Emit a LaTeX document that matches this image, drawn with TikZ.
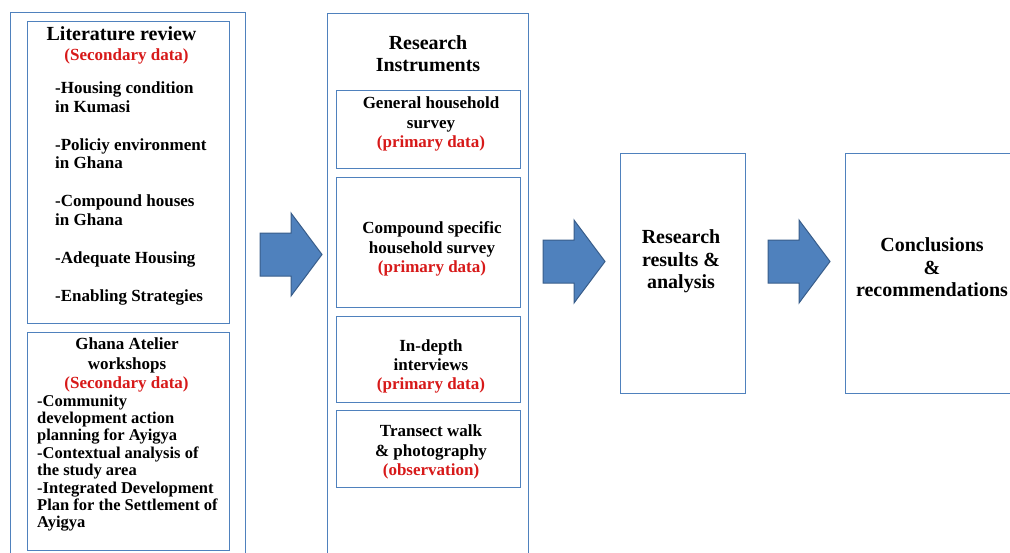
\documentclass[tikz,border=0pt]{standalone}
\usepackage{fontspec}
\setmainfont{Liberation Serif}
\usetikzlibrary{positioning}

\definecolor{boxblue}{RGB}{79,129,189}
\definecolor{arrowblue}{RGB}{79,129,189}
\definecolor{arrowedge}{RGB}{56,93,138}
\definecolor{datared}{RGB}{215,25,25}

\tikzset{
    frame/.style={rectangle, draw=boxblue, line width=0.9pt, anchor=north west},
    headtext/.style={align=center, font=\fontsize{20}{22.5}\selectfont\bfseries},
    bodytext/.style={align=center, font=\fontsize{17}{19.3}\selectfont\bfseries},
    datatext/.style={text=datared, font=\fontsize{17}{19.3}\selectfont\bfseries},
    blockarrow/.style={fill=arrowblue, draw=arrowedge, line width=1pt, line join=miter}
}

\begin{document}
\begin{tikzpicture}[x=1pt, y=-1pt, every node/.style={inner sep=0pt}]
    \useasboundingbox (0,0) rectangle (1010,552);
    \clip (0,0) rectangle (1010,552);

    % columns
    \node (litcol) [frame, minimum width=235pt, minimum height=552pt] at (10,12) {};
    \node (midcol) [frame, minimum width=201pt, minimum height=552pt] at (327,13) {};

    % secondary data
    \node (litbox) [frame, minimum width=202pt, minimum height=302pt] at (27,21) {};
    \node (atelierbox) [frame, minimum width=202pt, minimum height=218pt] at (27,332) {};

    \node (littitle) [headtext] at (121.5,34) {Literature review};
    \node (litsub) [datatext] at (126.5,56) {(Secondary data)};
    \node (litlist) [bodytext, align=left, anchor=north west, font=\fontsize{17}{18.8}\selectfont\bfseries] at (55,81.4) {
        -Housing condition\\in Kumasi\\[19pt]
        -Policiy environment\\in Ghana\\[19pt]
        -Compound houses\\in Ghana\\[19pt]
        -Adequate Housing\\[19pt]
        -Enabling Strategies
    };

    \node (ateliertitle) [bodytext] at (127,355.5) {Ghana Atelier\\workshops};
    \node (ateliersub) [datatext] at (126.5,384) {(Secondary data)};
    \node (atelierlist) [bodytext, align=left, anchor=north west, font=\fontsize{16.5}{17.4}\selectfont\bfseries] at (37,394.5) {
        -Community\\development action\\planning for Ayigya\\
        -Contextual analysis of\\the study area\\
        -Integrated Development\\Plan for the Settlement of\\Ayigya
    };

    % research instruments
    \node (midtitle) [headtext] at (428,53.7) {Research\\Instruments};

    \node (survbox) [frame, minimum width=184pt, minimum height=78pt] at (336,90) {};
    \node (compbox) [frame, minimum width=184pt, minimum height=130pt] at (336,177) {};
    \node (intvbox) [frame, minimum width=184pt, minimum height=86pt] at (336,316) {};
    \node (walkbox) [frame, minimum width=184pt, minimum height=77pt] at (336,410) {};

    \node (survtext) [bodytext] at (431,124) {General household\\survey\\\textcolor{datared}{(primary data)}};
    \node (comptext) [bodytext] at (432,249) {Compound specific\\household survey\\\textcolor{datared}{(primary data)}};
    \node (intvtext) [bodytext] at (431,366.5) {In-depth\\interviews\\\textcolor{datared}{(primary data)}};
    \node (walktext) [bodytext] at (431,452) {Transect walk\\\& photography\\\textcolor{datared}{(observation)}};

    % results and conclusions
    \node (resbox) [frame, minimum width=125pt, minimum height=240pt] at (620,153) {};
    \node (concbox) [frame, minimum width=176pt, minimum height=240pt] at (845,153) {};

    \node (restext) [headtext] at (681,261.7) {Research\\results \&\\analysis};
    \node (conctext) [headtext, font=\fontsize{20}{22.2}\selectfont\bfseries] at (932,267.2) {Conclusions\\\&\\recommendations};

    % block arrows
    \foreach \ax/\ay in {260/254.5, 543/261.5, 768/261.5}{
        \draw[blockarrow] (\ax,\ay-21.5) -- ++(31,0) -- ++(0,-20) -- (\ax+62,\ay)
            -- (\ax+31,\ay+41.5) -- ++(0,-20) -- (\ax,\ay+21.5) -- cycle;
    }
\end{tikzpicture}
\end{document}
